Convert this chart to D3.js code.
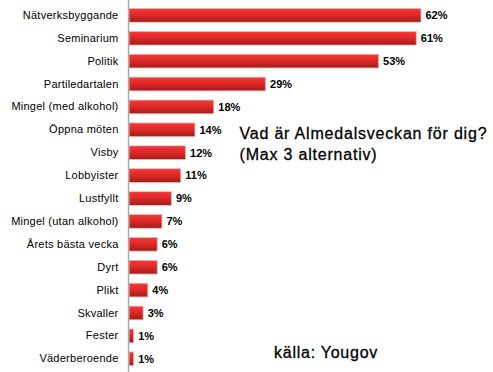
<!DOCTYPE html>
<html>
<head>
<meta charset="utf-8">
<script src="https://cdn.jsdelivr.net/npm/d3@7"></script>
<style>
html,body{margin:0;padding:0;background:#fff;}
svg{display:block;}
</style>
</head>
<body>
<svg id="chart" width="493" height="372"></svg>
<script>
const categories = ["Nätverksbyggande","Seminarium","Politik","Partiledartalen","Mingel (med alkohol)","Öppna möten","Visby","Lobbyister","Lustfyllt","Mingel (utan alkohol)","Årets bästa vecka","Dyrt","Plikt","Skvaller","Fester","Väderberoende"];
const values = [62,61,53,29,18,14,12,11,9,7,6,6,4,3,1,1];
const titleLines = ["Vad är Almedalsveckan för dig?","(Max 3 alternativ)"];
const sourceText = "källa: Yougov";

const svg = d3.select("#chart");
const defs = svg.append("defs");
const grad = defs.append("linearGradient").attr("id","barGrad").attr("x1",0).attr("y1",0).attr("x2",0).attr("y2",1);
grad.append("stop").attr("offset","0%").attr("stop-color","#f23a36");
grad.append("stop").attr("offset","45%").attr("stop-color","#e02a28");
grad.append("stop").attr("offset","100%").attr("stop-color","#a31b1b");

const data = categories.map((c,i)=>({cat:c, val:values[i]}));
const x = d3.scaleLinear().domain([0,62]).range([129,421]);
const y = d3.scaleBand().domain(categories).range([-0.7,374.8]).padding(0.4);

svg.selectAll("rect.bar").data(data).join("rect")
  .attr("class","bar")
  .attr("x", x(0))
  .attr("y", d=>y(d.cat))
  .attr("width", d=>x(d.val)-x(0))
  .attr("height", y.bandwidth())
  .attr("fill","url(#barGrad)")
  .attr("stroke","#f0bcbc")
  .attr("stroke-width",0.8);

const yAxis = d3.axisLeft(y).tickSize(0).tickPadding(10);
const ag = svg.append("g").attr("transform","translate(128.5,0)").call(yAxis);
ag.select(".domain").remove();
ag.append("line").attr("x1",0).attr("x2",0).attr("y1",0).attr("y2",372).attr("stroke","#a8a8a8").attr("stroke-width",1.5);
ag.selectAll(".tick text")
  .attr("font-family","Liberation Sans, Arial, sans-serif")
  .attr("font-size","11px")
  .attr("letter-spacing","0.25px")
  .attr("fill","#000");

svg.selectAll("text.val").data(data).join("text")
  .attr("class","val")
  .attr("x", d=>x(d.val)+4.5)
  .attr("y", d=>y(d.cat)+y.bandwidth()/2)
  .attr("dy","0.35em")
  .attr("font-family","Liberation Sans, Arial, sans-serif")
  .attr("font-size","11px")
  .attr("font-weight","bold")
  .attr("fill","#000")
  .text(d=>d.val+"%");

const t = svg.append("text")
  .attr("font-family","Liberation Sans, Arial, sans-serif")
  .attr("font-size","16px")
  .attr("letter-spacing","0.8px")
  .attr("stroke","#000")
  .attr("stroke-width",0.3)
  .attr("fill","#000");
t.selectAll("tspan").data(titleLines).join("tspan")
  .attr("x",239.5)
  .attr("y",(d,i)=>139+i*21)
  .text(d=>d);

svg.append("text")
  .attr("x",274).attr("y",357.5)
  .attr("font-family","Liberation Sans, Arial, sans-serif")
  .attr("font-size","16px")
  .attr("letter-spacing","0.75px")
  .attr("stroke","#000")
  .attr("stroke-width",0.3)
  .attr("fill","#000")
  .text(sourceText);
</script>
</body>
</html>
